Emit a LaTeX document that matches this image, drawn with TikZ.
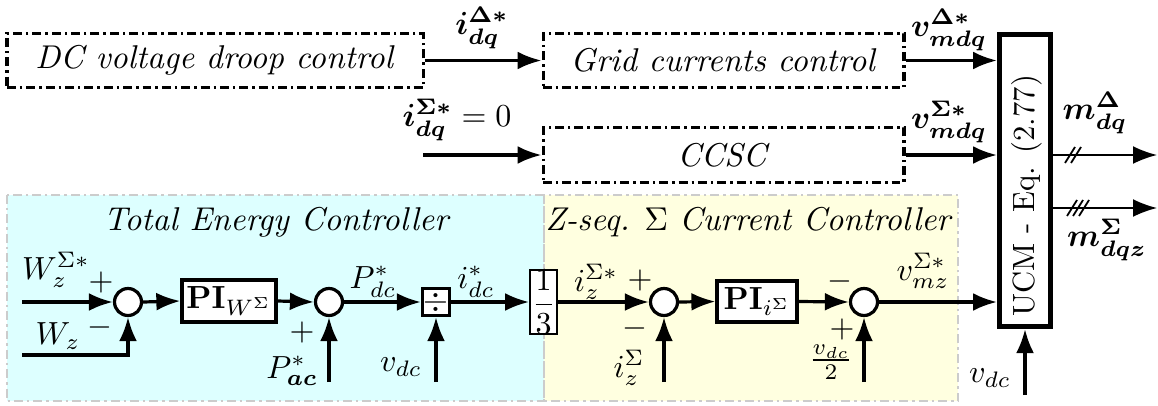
\documentclass[tikz,border=0pt]{standalone}
\usepackage{fix-cm}
\usepackage{amsmath,amssymb}
\usetikzlibrary{arrows.meta,calc}
\definecolor{cyanbg}{RGB}{221,255,255}
\definecolor{yellowbg}{RGB}{255,255,224}
\newcommand{\bsy}[1]{\boldsymbol{#1}}
\begin{document}
\begin{tikzpicture}[x=0.3125pt,y=-0.3125pt,
  font=\fontsize{10}{12}\selectfont,
  ln/.style={line width=1.0pt},
  arr/.style={ln,-{Latex[length=7.5pt,width=5.6pt]}},
  thinarr/.style={line width=0.56pt,-{Latex[length=7.5pt,width=5.6pt]}},
  ctrl/.style={draw,line width=0.94pt,dash pattern=on 2.8pt off 1.25pt on 0.75pt off 1.25pt,inner sep=0pt,font=\fontsize{10.3}{12.4}\selectfont},
  region/.style={draw=gray!40,line width=0.8pt,dash pattern=on 2.8pt off 1.25pt on 0.75pt off 1.25pt},
  ttl/.style={inner sep=0pt,font=\fontsize{10.3}{12.4}\selectfont},
  sum/.style={circle,draw,ln,fill=white,minimum size=8.44pt,inner sep=0pt},
  box/.style={draw,ln,fill=white,inner sep=0pt},
  lbl/.style={inner sep=0pt},
  tick/.style={line width=0.56pt}]
\useasboundingbox (0,0) rectangle (1158,405);
% background regions
\fill[cyanbg] (7,195) rectangle (544,401);
\fill[yellowbg] (544,195) rectangle (958,401);
\draw[region] (7,195) rectangle (544,401);
\draw[region] (544,195) rectangle (958,401);
\node[ttl] (tec) at (277,222) {\textit{Total Energy Controller}};
\node[ttl] (zsc) at (749,222) {\textit{Z-seq.} $\Sigma$ \textit{Current Controller}};
% top blocks
\node[ctrl,minimum width=130pt,minimum height=16.9pt] (dc) at (215,60.5) {\textit{DC voltage droop control}};
\node[ctrl,minimum width=112.8pt,minimum height=16.9pt] (grid) at (723.5,60.5) {\textit{Grid currents control}};
\node[ctrl,minimum width=112.8pt,minimum height=16.9pt] (ccsc) at (723.5,155) {\textit{CCSC}};
\node[draw,line width=1.6pt,fill=white,minimum width=15.9pt,minimum height=91.25pt,inner sep=0pt] (ucm) at (1025,180.5) {};
\node[inner sep=0pt,rotate=90,font=\fontsize{9.6}{11.5}\selectfont] (ucmtxt) at (1027,196) {UCM - Eq. (2.77)};
\draw[arr] (dc.east) -- (grid.west);
\coordinate (izin) at (423,155);
\draw[arr] (izin) -- (ccsc.west);
\draw[arr] (grid.east) -- (grid.east -| ucm.west);
\draw[arr] (ccsc.east) -- (ccsc.east -| ucm.west);
\node[lbl] (l1) at (482,28) {$\bsy{i_{dq}^{\Delta *}}$};
\node[lbl] (l2) at (457,120) {$\bsy{i_{dq}^{\Sigma *}} = 0$};
\node[lbl] (l3) at (949,30) {$\bsy{v_{mdq}^{\Delta *}}$};
\node[lbl] (l4) at (949,122) {$\bsy{v_{mdq}^{\Sigma *}}$};
% outputs
\coordinate (o1) at (1157,155);
\coordinate (o2) at (1157,208);
\draw[thinarr] (ucm.east |- o1) -- (o1);
\draw[thinarr] (ucm.east |- o2) -- (o2);
\draw[tick] (1065,163) -- (1075,147);
\draw[tick] (1071,163) -- (1081,147);
\draw[tick] (1067,216) -- (1077,200);
\draw[tick] (1073,216) -- (1083,200);
\draw[tick] (1079,216) -- (1089,200);
\node[lbl] (l5) at (1095,113) {$\bsy{m_{dq}^{\Delta}}$};
\node[lbl] (l6) at (1107,240) {$\bsy{m_{dqz}^{\Sigma}}$};
% bottom loop
\node[sum] (c1) at (128,302) {};
\node[box,minimum width=29.4pt,minimum height=13.1pt] (pi1) at (229,301) {$\mathbf{PI}_{W^\Sigma}$};
\node[sum] (c2) at (329,302) {};
\node[box,minimum size=8.44pt] (div) at (436,302) {$\div$};
\node[draw,line width=0.56pt,fill=white,minimum width=8.44pt,minimum height=16.6pt,inner sep=0pt] (third) at (543.5,302) {$\dfrac{1}{3}$};
\node[sum] (c3) at (664,302) {};
\node[box,minimum width=25pt,minimum height=12.8pt] (pi2) at (757,301.5) {$\mathbf{PI}_{i^\Sigma}$};
\node[sum] (c4) at (864,302) {};
\coordinate (wref) at (22,302);
\coordinate (wfb) at (22,355);
\coordinate (pac) at (329,382);
\coordinate (vdc1) at (436,382);
\coordinate (iz) at (664,382);
\coordinate (vdc2) at (864,382);
\coordinate (vdc3) at (1025,395);
\draw[arr] (wref) -- (c1.west);
\draw[arr] (wfb) -| (c1.south);
\draw[arr] (c1.east) -- (pi1.west);
\draw[arr] (pi1.east) -- (c2.west);
\draw[arr] (c2.east) -- (div.west);
\draw[arr] (pac) -- (c2.south);
\draw[arr] (vdc1) -- (div.south);
\draw[arr] (div.east) -- (third.west);
\draw[arr] (third.east) -- (c3.west);
\draw[arr] (iz) -- (c3.south);
\draw[arr] (c3.east) -- (pi2.west);
\draw[arr] (pi2.east) -- (c4.west);
\draw[arr] (vdc2) -- (c4.south);
\draw[arr] (c4.east) -- (c4.east -| ucm.west);
\draw[arr] (vdc3) -- (ucm.south);
% labels
\node[lbl] (lw1) at (56,270) {$W_z^{\Sigma *}$};
\node[lbl] (p1) at (101,282) {$+$};
\node[lbl] (lw2) at (58,336) {$W_z$};
\node[lbl] (m1) at (100,327) {$-$};
\node[lbl] (lpdc) at (373,282) {$P_{dc}^*$};
\node[lbl] (p2) at (302,332) {$+$};
\node[lbl] (lpac) at (292,371) {$P^*_{\bsy{ac}}$};
\node[lbl] (lvdc1) at (401,367) {$v_{dc}$};
\node[lbl] (lidc) at (476,282) {$i_{dc}^*$};
\node[lbl] (liz1) at (596,282) {$i_z^{\Sigma *}$};
\node[lbl] (p3) at (640,280) {$+$};
\node[lbl] (m3) at (635,328) {$-$};
\node[lbl] (liz2) at (629,368) {$i_z^{\Sigma}$};
\node[lbl] (m4) at (840,281) {$-$};
\node[lbl] (p4) at (842,329) {$+$};
\node[lbl] (lvdc2) at (831,362) {$\frac{v_{dc}}{2}$};
\node[lbl] (lvmz) at (923,271) {$v_{mz}^{\Sigma *}$};
\node[lbl] (lvdc3) at (990,378) {$v_{dc}$};
\end{tikzpicture}
\end{document}
